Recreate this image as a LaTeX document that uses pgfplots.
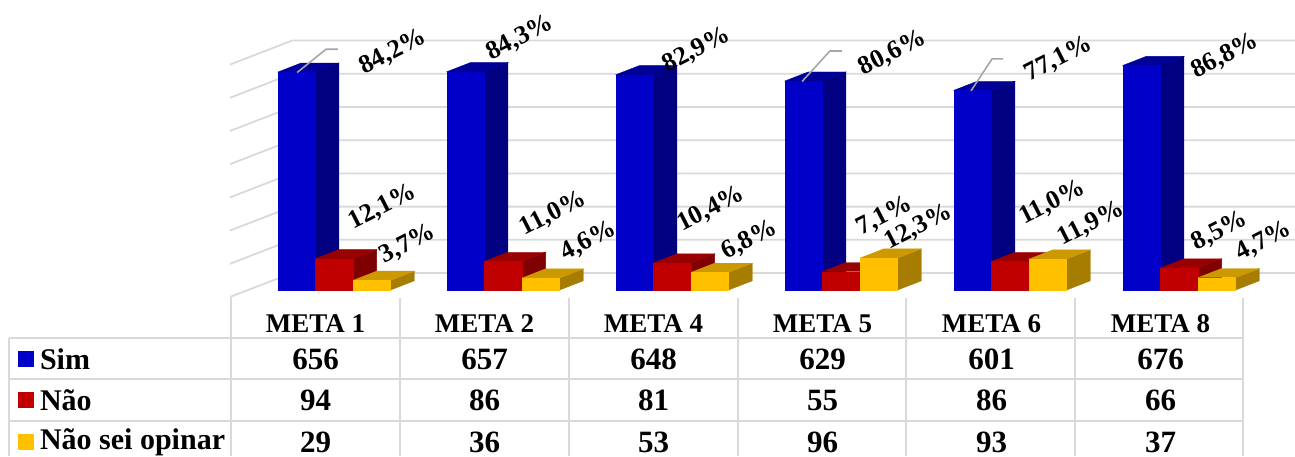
\documentclass[border=0pt]{standalone}
\usepackage{fontspec}
\setmainfont{Liberation Serif}
\usepackage{pgfplots}
\pgfplotsset{compat=1.18}
\definecolor{gridc}{HTML}{D9D9D9}
\definecolor{leader}{HTML}{A6A6A6}
\definecolor{bluef}{HTML}{0000C8}
\definecolor{blues}{HTML}{000080}
\definecolor{bluet}{HTML}{000096}
\definecolor{redf}{HTML}{C00000}
\definecolor{reds}{HTML}{7F0000}
\definecolor{redt}{HTML}{990000}
\definecolor{yelf}{HTML}{FFC000}
\definecolor{yels}{HTML}{A67D00}
\definecolor{yelt}{HTML}{CC9900}
% one 3d bar: x of front left (in categories), count, colour prefix
\newcommand{\bartd}[3]{%
  \addplot[fill=#3s,draw=#3s,line width=0.2pt] coordinates {(#1+0.223,0) (#1+0.363,27.7) (#1+0.363,#2+27.7) (#1+0.223,#2)};
  \addplot[fill=#3t,draw=#3t,line width=0.2pt] coordinates {(#1,#2) (#1+0.14,#2+27.7) (#1+0.363,#2+27.7) (#1+0.223,#2)};
  \addplot[fill=#3f,draw=#3f,line width=0.2pt] coordinates {(#1,0) (#1+0.223,0) (#1+0.223,#2) (#1,#2)};
}
% three bars of a group
\newcommand{\group}[4]{%
  \bartd{#1+0.2752}{#2}{blue}
  \bartd{#1+0.4983}{#3}{red}
  \bartd{#1+0.7214}{#4}{yel}
}
% back wall + side wall grid line
\newcommand{\gridl}[1]{%
  \addplot[gridc,line width=0.9pt] coordinates {(-0.006,#1-21) (0.361,#1+51.2) (6.29586,#1+51.2)};
}
\newcommand{\lab}[3]{\node[rotate=27,inner sep=0pt,font=\fontsize{13}{15}\selectfont\bfseries] at (axis cs:{px(#1)},{py(#2)}) {#3\%};}
\newcommand{\cell}[3]{\node[font=\fontsize{15.5}{17}\selectfont\bfseries] at (axis cs:#1+0.5,{py(#2)}) {#3};}
\begin{document}
\begin{tikzpicture}
\begin{axis}[
    scale only axis,
    width=647.5pt, height=228pt,
    xmin=-1.36686, xmax=6.29586,
    ymin=-500, ymax=873.49,
    clip=false,
    axis line style={draw=none},
    tick style={draw=none},
    ytick=\empty,
    xtick={0.5,1.5,2.5,3.5,4.5,5.5},
    xticklabels={META 1,META 2,META 4,META 5,META 6,META 8},
    x tick label style={anchor=center,yshift=66.2pt,font=\fontsize{13.5}{16}\selectfont\bfseries},
    declare function={px(\x)=(\x-231)/169; py(\y)=(290-\y)/0.332;},
]
% grid
\gridl{0}\gridl{100}\gridl{200}\gridl{300}\gridl{400}\gridl{500}\gridl{600}\gridl{700}
% table lines
\addplot[gridc,line width=0.9pt] coordinates {(-1.314,-143.5) (5.99,-143.5)};
\addplot[gridc,line width=0.9pt] coordinates {(-1.314,-269) (5.99,-269)};
\addplot[gridc,line width=0.9pt] coordinates {(-1.314,-395) (5.99,-395)};
\addplot[gridc,line width=0.9pt] coordinates {(-1.314,-143.5) (-1.314,-500)};
\addplot[gridc,line width=0.9pt] coordinates {(0,-24) (0,-500)};
\addplot[gridc,line width=0.9pt] coordinates {(1,-24) (1,-500)};
\addplot[gridc,line width=0.9pt] coordinates {(2,-24) (2,-500)};
\addplot[gridc,line width=0.9pt] coordinates {(3,-24) (3,-500)};
\addplot[gridc,line width=0.9pt] coordinates {(3.995,-24) (3.995,-500)};
\addplot[gridc,line width=0.9pt] coordinates {(4.995,-24) (4.995,-500)};
\addplot[gridc,line width=0.9pt] coordinates {(5.99,-24) (5.99,-500)};
% bars: Sim, Nao, Nao sei opinar
\group{0}{656}{94}{29}
\group{1}{657}{86}{36}
\group{2}{648}{81}{53}
\group{3}{629}{55}{96}
\group{4}{601}{86}{93}
\group{5}{676}{66}{37}
% leader lines
\addplot[leader,line width=0.8pt] coordinates {(0.391,655) (0.562,725) (0.633,725)};
\addplot[leader,line width=0.8pt] coordinates {(3.379,628) (3.544,720) (3.615,720)};
\addplot[leader,line width=0.8pt] coordinates {(4.379,600) (4.503,696) (4.568,696)};
% percent labels
\lab{393}{52}{84,2}\lab{520}{38.5}{84,3}\lab{696.5}{50}{82,9}\lab{892.5}{53.5}{80,6}\lab{1058.5}{59}{77,1}\lab{1225}{56}{86,8}
\lab{382.5}{207}{12,1}\lab{553}{214}{11,0}\lab{711}{209}{10,4}\lab{884.5}{216}{7,1}\lab{1052.5}{203}{11,0}\lab{1220}{231}{8,5}
\lab{408}{244.5}{3,7}\lab{588.5}{241.5}{4,6}\lab{749.5}{240}{6,8}\lab{918.5}{227.5}{12,3}\lab{1091}{224}{11,9}\lab{1264}{241}{4,7}
% legend keys
\addplot[only marks,mark=square*,mark size=3.75pt,color=bluef] coordinates {(-1.216,-208)};
\addplot[only marks,mark=square*,mark size=3.75pt,color=redf] coordinates {(-1.216,-331)};
\addplot[only marks,mark=square*,mark size=3.75pt,color=yelf] coordinates {(-1.216,-458)};
% row names
\node[anchor=west,font=\fontsize{15}{17}\selectfont\bfseries] at (axis cs:{px(33)},{py(359)}) {Sim};
\node[anchor=west,font=\fontsize{15}{17}\selectfont\bfseries] at (axis cs:{px(33)},{py(400)}) {Não};
\node[anchor=west,font=\fontsize{15}{17}\selectfont\bfseries] at (axis cs:{px(33)},{py(442)}) {Não sei opinar};
% table values
\cell{0}{359}{656}\cell{1}{359}{657}\cell{2}{359}{648}\cell{3}{359}{629}\cell{4}{359}{601}\cell{5}{359}{676}
\cell{0}{400}{94}\cell{1}{400}{86}\cell{2}{400}{81}\cell{3}{400}{55}\cell{4}{400}{86}\cell{5}{400}{66}
\cell{0}{442}{29}\cell{1}{442}{36}\cell{2}{442}{53}\cell{3}{442}{96}\cell{4}{442}{93}\cell{5}{442}{37}
\end{axis}
\pgfresetboundingbox
\useasboundingbox (0,0) rectangle (647.5pt,228pt);
\end{tikzpicture}
\end{document}
